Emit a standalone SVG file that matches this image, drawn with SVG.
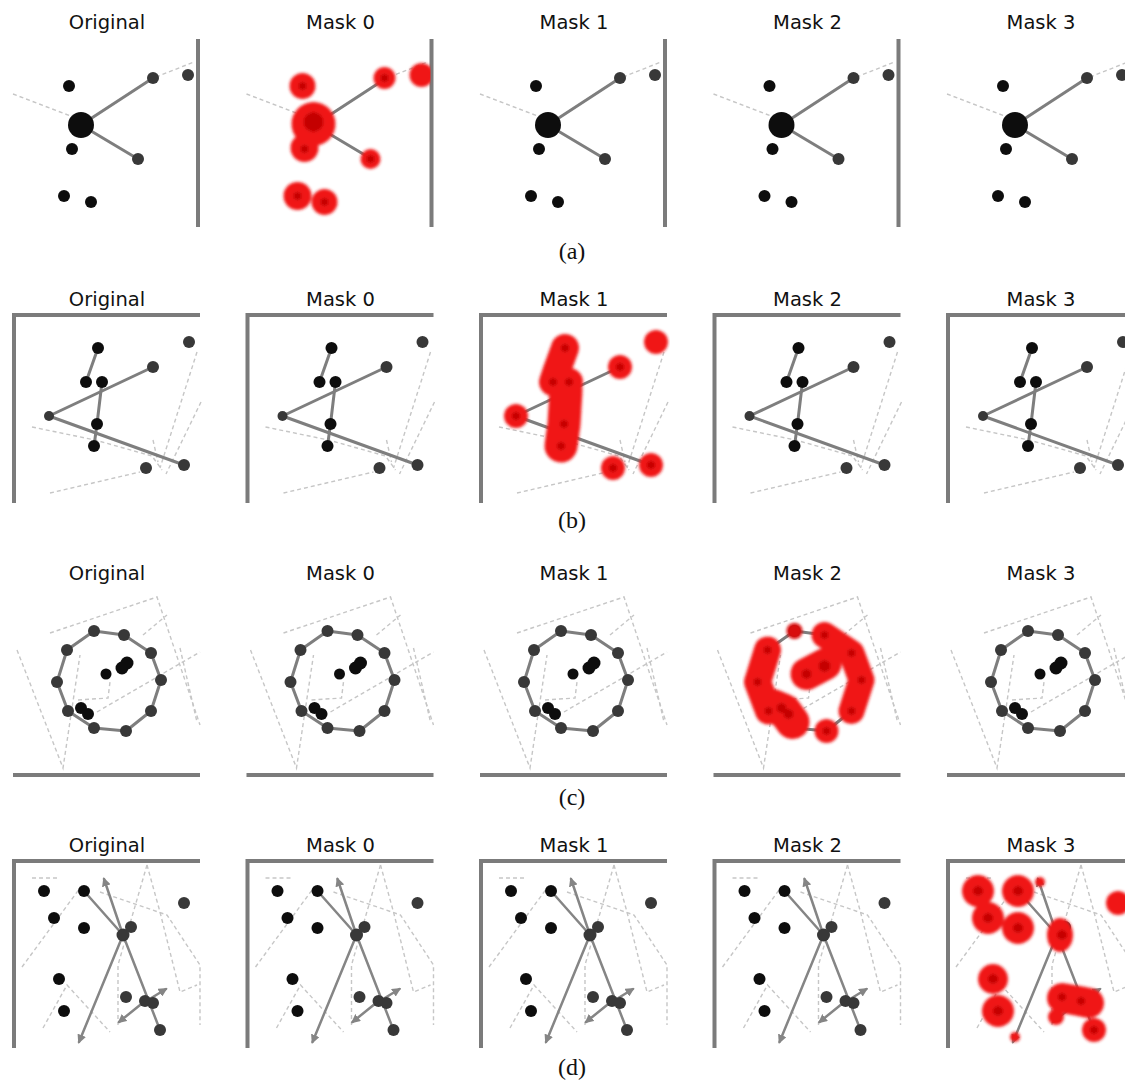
<svg xmlns="http://www.w3.org/2000/svg" xmlns:xlink="http://www.w3.org/1999/xlink" width="1125" height="1082" viewBox="0 0 1125 1082">
  <defs>
    <style>
      .t { font-family: "DejaVu Sans", "Liberation Sans", sans-serif; font-size: 19.5px; text-anchor: middle; fill: #111; }
      .cap { font-family: "Liberation Serif", serif; font-size: 24px; text-anchor: middle; fill: #111; }
      .wall { stroke: #7b7b7b; stroke-width: 4; fill: none; }
      .dash { stroke: #c6c6c6; stroke-width: 1.4; stroke-dasharray: 4 3; fill: none; }
      .edge { stroke: #7e7e7e; stroke-width: 3; fill: none; stroke-linecap: round; stroke-linejoin: round; }
      .arr { stroke: #858585; stroke-width: 2.5; fill: none; stroke-linecap: round; }
      .blk { fill: #111; }
      .gry { fill: #383838; }
      .red { fill: #f01616; }
      .redl { stroke: #f01616; fill: none; stroke-linecap: round; stroke-linejoin: round; }
      .core { fill: #c40000; }
    </style>
    <filter id="soft" x="-5%" y="-5%" width="110%" height="110%">
      <feGaussianBlur stdDeviation="0.6"/>
    </filter>
    <filter id="glow" x="-10%" y="-10%" width="120%" height="120%">
      <feGaussianBlur stdDeviation="1.6"/>
    </filter>
    <marker id="head" viewBox="0 0 10 10" refX="8" refY="5" markerWidth="9" markerHeight="9" markerUnits="userSpaceOnUse" orient="auto">
      <path d="M0,0 L10,5 L0,10 z" fill="#858585"/>
    </marker>
    <clipPath id="clipA"><rect x="8" y="37" width="189" height="192"/></clipPath>
    <clipPath id="clipB"><rect x="15" y="316" width="188" height="190"/></clipPath>
    <clipPath id="clipC"><rect x="10" y="588" width="192" height="186"/></clipPath>
    <clipPath id="clipD"><rect x="15" y="862" width="188" height="188"/></clipPath>

    <!-- scene (a): hub with two links beside a wall -->
    <g id="sceneA">
      <g clip-path="url(#clipA)" filter="url(#soft)">
        <polyline class="dash" points="13,94 81,120"/>
        <line class="dash" x1="156" y1="77" x2="194" y2="62"/>
        <line class="edge" x1="81" y1="125" x2="153" y2="78"/>
        <line class="edge" x1="81" y1="125" x2="138" y2="159"/>
        <circle class="blk" cx="81" cy="125" r="13"/>
        <circle class="blk" cx="69" cy="86" r="6"/>
        <circle class="blk" cx="72" cy="149" r="6"/>
        <circle class="blk" cx="64" cy="196" r="6"/>
        <circle class="blk" cx="91" cy="202" r="6"/>
        <circle class="gry" cx="153" cy="78" r="6"/>
        <circle class="gry" cx="188" cy="75" r="6"/>
        <circle class="gry" cx="138" cy="159" r="6"/>
      </g>
      <line class="wall" x1="198" y1="39" x2="198" y2="227"/>
    </g>

    <!-- scene (b): chain of dots and two long links in a corner -->
    <g id="sceneB">
      <g clip-path="url(#clipB)" filter="url(#soft)">
        <polyline class="dash" points="32,427 95,440 152,456 162,470"/>
        <line class="dash" x1="50" y1="493" x2="140" y2="472"/>
        <line class="dash" x1="197" y1="352" x2="160" y2="468"/>
        <line class="dash" x1="201" y1="402" x2="166" y2="474"/>
        <line class="dash" x1="153" y1="440" x2="158" y2="462"/>
        <line class="edge" x1="98" y1="348" x2="86" y2="382"/>
        <polyline class="edge" points="102,382 97,424 94,446"/>
        <line class="edge" x1="49" y1="416" x2="153" y2="367"/>
        <line class="edge" x1="49" y1="416" x2="184" y2="465"/>
        <circle class="blk" cx="98" cy="348" r="6"/>
        <circle class="blk" cx="86" cy="382" r="6"/>
        <circle class="blk" cx="102" cy="382" r="6"/>
        <circle class="blk" cx="97" cy="424" r="6"/>
        <circle class="blk" cx="94" cy="446" r="6"/>
        <circle class="gry" cx="189" cy="342" r="6"/>
        <circle class="gry" cx="153" cy="367" r="6"/>
        <circle class="gry" cx="146" cy="468" r="6"/>
        <circle class="gry" cx="184" cy="465" r="6"/>
        <circle class="gry" cx="49" cy="416" r="5"/>
      </g>
      <polyline class="wall" points="14,503 14,315 200,315"/>
    </g>

    <!-- scene (c): ring of ten dots above a floor -->
    <g id="sceneC">
      <g clip-path="url(#clipC)" filter="url(#soft)">
        <polyline class="dash" points="50,633 157,597 200,725"/>
        <polyline class="dash" points="17,650 63,768 80,655"/>
        <polyline class="dash" points="78,700 108,698 110,682"/>
        <line class="dash" x1="97" y1="712" x2="200" y2="652"/>
        <line class="dash" x1="143" y1="635" x2="167" y2="615"/>
        <line class="dash" x1="180" y1="648" x2="197" y2="722"/>
        <polygon class="edge" points="94,631 124,635 151,653 161,680 151,711 126,731 94,728 68,711 57,682 67,650"/>
        <g class="gry">
          <circle cx="94" cy="631" r="6"/>
          <circle cx="124" cy="635" r="6"/>
          <circle cx="151" cy="653" r="6"/>
          <circle cx="161" cy="680" r="6"/>
          <circle cx="151" cy="711" r="6"/>
          <circle cx="126" cy="731" r="6"/>
          <circle cx="94" cy="728" r="6"/>
          <circle cx="68" cy="711" r="6"/>
          <circle cx="57" cy="682" r="6"/>
          <circle cx="67" cy="650" r="6"/>
        </g>
        <circle class="blk" cx="106" cy="674" r="5.5"/>
        <circle class="blk" cx="122" cy="668" r="6.5"/>
        <circle class="blk" cx="127" cy="663" r="6.5"/>
        <circle class="blk" cx="81" cy="708" r="6"/>
        <circle class="blk" cx="88" cy="714" r="6"/>
      </g>
      <line class="wall" x1="13" y1="775" x2="200" y2="775"/>
    </g>

    <!-- scene (d): scattered dots with arrows in a corner -->
    <g id="sceneD">
      <g clip-path="url(#clipD)" filter="url(#soft)">
        <polyline class="dash" points="22,967 80,888"/>
        <line class="dash" x1="32" y1="878" x2="58" y2="878"/>
        <polyline class="dash" points="147,865 118,965 118,1025"/>
        <polyline class="dash" points="147,865 160,912 180,992 197,985"/>
        <polyline class="dash" points="100,892 167,915 200,965 200,1025"/>
        <polyline class="dash" points="43,1028 67,985 110,1032"/>
        <line class="arr" x1="84" y1="891" x2="123" y2="935"/>
        <line class="arr" x1="160" y1="1030" x2="123" y2="935"/>
        <line class="arr" x1="123" y1="935" x2="104" y2="879" marker-end="url(#head)"/>
        <line class="arr" x1="123" y1="935" x2="79" y2="1042" marker-end="url(#head)"/>
        <line class="arr" x1="148" y1="1000" x2="166" y2="989" marker-end="url(#head)"/>
        <line class="arr" x1="145" y1="1001" x2="119" y2="1022" marker-end="url(#head)"/>
        <circle class="blk" cx="44" cy="891" r="6"/>
        <circle class="blk" cx="84" cy="891" r="6"/>
        <circle class="blk" cx="54" cy="918" r="6"/>
        <circle class="blk" cx="84" cy="928" r="6"/>
        <circle class="blk" cx="59" cy="979" r="6"/>
        <circle class="blk" cx="64" cy="1011" r="6"/>
        <circle class="gry" cx="184" cy="903" r="6"/>
        <circle class="gry" cx="131" cy="927" r="6"/>
        <circle class="gry" cx="123" cy="935" r="6.5"/>
        <circle class="gry" cx="126" cy="997" r="6"/>
        <circle class="gry" cx="145" cy="1001" r="6"/>
        <circle class="gry" cx="153" cy="1003" r="6"/>
        <circle class="gry" cx="160" cy="1030" r="6"/>
      </g>
      <polyline class="wall" points="14,1048 14,861 200,861"/>
    </g>
  </defs>

  <rect width="1125" height="1082" fill="#fff"/>

  <!-- row (a) -->
  <g id="row-a">
    <text class="t" x="107" y="29">Original</text>
    <text class="t" x="340.5" y="29">Mask 0</text>
    <text class="t" x="574" y="29">Mask 1</text>
    <text class="t" x="807.5" y="29">Mask 2</text>
    <text class="t" x="1041" y="29">Mask 3</text>
    <use xlink:href="#sceneA"/>
    <use xlink:href="#sceneA" transform="translate(233.5,0)"/>
    <use xlink:href="#sceneA" transform="translate(467,0)"/>
    <use xlink:href="#sceneA" transform="translate(700.5,0)"/>
    <use xlink:href="#sceneA" transform="translate(934,0)"/>
    <g id="highlight-a" transform="translate(233.5,0)" clip-path="url(#clipA)">
      <g filter="url(#glow)">
        <circle class="red" cx="69" cy="86" r="13"/>
        <circle class="red" cx="80" cy="124" r="22"/>
        <circle class="red" cx="71" cy="148" r="14"/>
        <circle class="red" cx="64" cy="196" r="14"/>
        <circle class="red" cx="91" cy="202" r="13"/>
        <circle class="red" cx="151" cy="78" r="11"/>
        <circle class="red" cx="188" cy="75" r="12"/>
        <circle class="red" cx="137" cy="159" r="10"/>
        <circle class="core" cx="80" cy="122" r="10"/>
        <circle class="core" cx="69" cy="86" r="4"/>
        <circle class="core" cx="71" cy="149" r="4"/>
        <circle class="core" cx="64" cy="196" r="4"/>
        <circle class="core" cx="91" cy="202" r="4"/>
        <circle class="core" cx="151" cy="78" r="4"/>
        <circle class="core" cx="137" cy="159" r="4"/>
      </g>
    </g>
    <text class="cap" x="572" y="259">(a)</text>
  </g>

  <!-- row (b) -->
  <g id="row-b">
    <text class="t" x="107" y="306">Original</text>
    <text class="t" x="340.5" y="306">Mask 0</text>
    <text class="t" x="574" y="306">Mask 1</text>
    <text class="t" x="807.5" y="306">Mask 2</text>
    <text class="t" x="1041" y="306">Mask 3</text>
    <use xlink:href="#sceneB"/>
    <use xlink:href="#sceneB" transform="translate(233.5,0)"/>
    <use xlink:href="#sceneB" transform="translate(467,0)"/>
    <use xlink:href="#sceneB" transform="translate(700.5,0)"/>
    <use xlink:href="#sceneB" transform="translate(934,0)"/>
    <g id="highlight-b" transform="translate(467,0)" clip-path="url(#clipB)">
      <g filter="url(#glow)">
        <polyline class="redl" stroke-width="28" points="98,348 90,370 86,382 102,382"/>
        <polyline class="redl" stroke-width="33" points="99,390 97,424 94,446"/>
        <circle class="red" cx="189" cy="342" r="12"/>
        <circle class="red" cx="153" cy="367" r="12"/>
        <circle class="red" cx="49" cy="416" r="12"/>
        <circle class="red" cx="146" cy="468" r="12"/>
        <circle class="red" cx="184" cy="465" r="12"/>
        <g class="core">
          <circle cx="98" cy="348" r="4"/>
          <circle cx="86" cy="382" r="4"/>
          <circle cx="102" cy="382" r="4"/>
          <circle cx="97" cy="424" r="4"/>
          <circle cx="94" cy="446" r="4"/>
          <circle cx="153" cy="367" r="4"/>
          <circle cx="49" cy="416" r="4"/>
          <circle cx="146" cy="468" r="4"/>
          <circle cx="184" cy="465" r="4"/>
        </g>
      </g>
    </g>
    <text class="cap" x="572" y="528">(b)</text>
  </g>

  <!-- row (c) -->
  <g id="row-c">
    <text class="t" x="107" y="580">Original</text>
    <text class="t" x="340.5" y="580">Mask 0</text>
    <text class="t" x="574" y="580">Mask 1</text>
    <text class="t" x="807.5" y="580">Mask 2</text>
    <text class="t" x="1041" y="580">Mask 3</text>
    <use xlink:href="#sceneC"/>
    <use xlink:href="#sceneC" transform="translate(233.5,0)"/>
    <use xlink:href="#sceneC" transform="translate(467,0)"/>
    <use xlink:href="#sceneC" transform="translate(700.5,0)"/>
    <use xlink:href="#sceneC" transform="translate(934,0)"/>
    <g id="highlight-c" transform="translate(700.5,0)" clip-path="url(#clipC)">
      <g filter="url(#glow)">
        <circle cx="94" cy="631" r="8" fill="#d80808"/>
        <polyline class="redl" stroke-width="26" points="124,635 151,653 161,680 151,711"/>
        <polyline class="redl" stroke-width="27" points="67,650 57,682 68,711"/>
        <polyline class="redl" stroke-width="34" points="72,706 84,711 92,722"/>
        <circle class="red" cx="126" cy="731" r="12"/>
        <polyline class="redl" stroke-width="32" points="106,674 125,664"/>
        <g class="core">
          <circle cx="124" cy="635" r="4"/>
          <circle cx="151" cy="653" r="4"/>
          <circle cx="161" cy="680" r="4"/>
          <circle cx="151" cy="711" r="4"/>
          <circle cx="126" cy="731" r="4"/>
          <circle cx="67" cy="650" r="4"/>
          <circle cx="57" cy="682" r="4"/>
          <circle cx="68" cy="711" r="4"/>
          <circle cx="81" cy="708" r="5"/>
          <circle cx="88" cy="714" r="5"/>
          <circle cx="106" cy="674" r="5"/>
          <circle cx="124" cy="666" r="6"/>
        </g>
      </g>
    </g>
    <text class="cap" x="572" y="805">(c)</text>
  </g>

  <!-- row (d) -->
  <g id="row-d">
    <text class="t" x="107" y="852">Original</text>
    <text class="t" x="340.5" y="852">Mask 0</text>
    <text class="t" x="574" y="852">Mask 1</text>
    <text class="t" x="807.5" y="852">Mask 2</text>
    <text class="t" x="1041" y="852">Mask 3</text>
    <use xlink:href="#sceneD"/>
    <use xlink:href="#sceneD" transform="translate(233.5,0)"/>
    <use xlink:href="#sceneD" transform="translate(467,0)"/>
    <use xlink:href="#sceneD" transform="translate(700.5,0)"/>
    <use xlink:href="#sceneD" transform="translate(934,0)"/>
    <g id="highlight-d" transform="translate(934,0)" clip-path="url(#clipD)">
      <g filter="url(#glow)">
        <circle class="red" cx="44" cy="891" r="16"/>
        <circle class="red" cx="84" cy="891" r="16"/>
        <circle class="red" cx="54" cy="918" r="16"/>
        <circle class="red" cx="84" cy="928" r="16"/>
        <circle class="red" cx="59" cy="979" r="15"/>
        <circle class="red" cx="64" cy="1011" r="16"/>
        <ellipse class="red" cx="126" cy="935" rx="13" ry="17"/>
        <circle class="red" cx="184" cy="903" r="12"/>
        <polyline class="redl" stroke-width="30" points="128,998 145,1001 155,1003"/>
        <circle class="red" cx="160" cy="1030" r="12"/>
        <circle class="red" cx="122" cy="1017" r="8"/>
        <circle class="red" cx="106" cy="882" r="5"/>
        <circle class="red" cx="81" cy="1037" r="5"/>
        <g class="core">
          <circle cx="44" cy="891" r="5"/>
          <circle cx="84" cy="891" r="5"/>
          <circle cx="54" cy="918" r="5"/>
          <circle cx="84" cy="928" r="5"/>
          <circle cx="59" cy="979" r="5"/>
          <circle cx="64" cy="1011" r="5"/>
          <circle cx="128" cy="935" r="5"/>
          <circle cx="128" cy="997" r="4"/>
          <circle cx="147" cy="1001" r="4"/>
          <circle cx="160" cy="1030" r="4"/>
        </g>
      </g>
    </g>
    <text class="cap" x="572" y="1075">(d)</text>
  </g>
</svg>
